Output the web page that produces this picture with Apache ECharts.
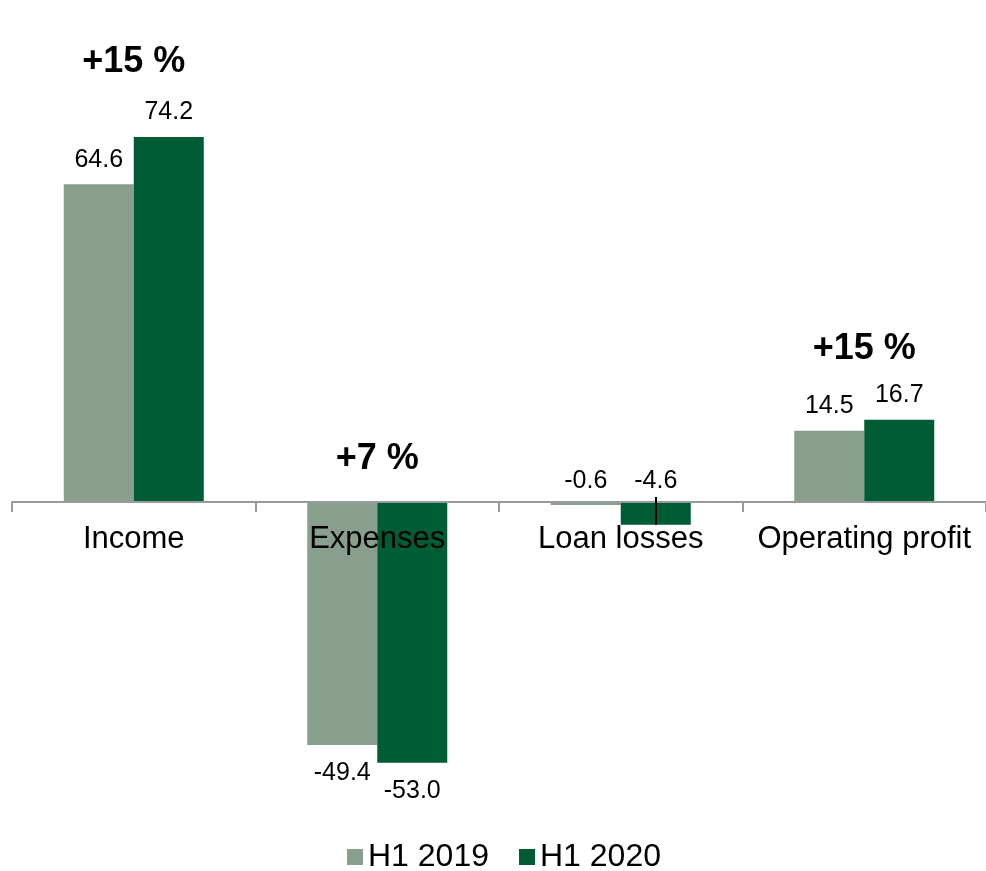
<!DOCTYPE html>
<html>
<head>
<meta charset="utf-8">
<script src="https://cdn.jsdelivr.net/npm/echarts@6/dist/echarts.min.js"></script>
<style>
  html, body { margin: 0; padding: 0; background: #fff; }
  #chart { width: 986px; height: 871px; }
</style>
</head>
<body>
<div id="chart"></div>
<script>
// Half-year results, by line item
const categories = ['Income', 'Expenses', 'Loan losses', 'Operating profit'];
const seriesNames = ['H1 2019', 'H1 2020'];
const h1_2019 = [64.6, -49.4, -0.6, 14.5];
const h1_2020 = [74.2, -53.0, -4.6, 16.7];
const changeLabels = ['+15 %', '+7 %', '', '+15 %'];

const LIGHT = '#889F8D';
const DARK = '#005C35';
const FONT = '"Liberation Sans", Arial, sans-serif';

const Y_MIN = -60;
const Y_MAX = 90;
const GRID_TOP = 59.2;
const GRID_BOTTOM = 73.8;
const PLOT_H = 871 - GRID_TOP - GRID_BOTTOM;
// distance from the bottom of the plot up to the zero line
const ZERO_SHIFT = PLOT_H * (0 - Y_MIN) / (Y_MAX - Y_MIN);

function valueLabel(v) {
  // small negatives keep their label above the zero line
  if (v >= 0) return { value: v, label: { position: 'top', distance: 12 } };
  if (Math.abs(v) < 10) return { value: v, label: { position: 'insideTop', offset: [0, -38] } };
  return { value: v, label: { position: 'bottom', distance: 16 } };
}

const chart = echarts.init(document.getElementById('chart'), null, { renderer: 'canvas' });

const changeDistances = [57, 25, 0, 53];

chart.setOption({
  animation: false,
  textStyle: { fontFamily: FONT },
  grid: { left: 12, right: -4, top: GRID_TOP, bottom: GRID_BOTTOM, containLabel: false },
  legend: {
    data: seriesNames,
    left: 342,
    top: 836,
    itemWidth: 16,
    itemHeight: 16,
    itemGap: 30,
    icon: 'rect',
    textStyle: { fontSize: 32, color: '#000', fontFamily: FONT }
  },
  xAxis: {
    type: 'category',
    data: categories,
    position: 'bottom',
    offset: -ZERO_SHIFT,
    z: 5,
    axisLine: { onZero: false, lineStyle: { color: '#9a9a9a', width: 2 } },
    axisTick: { show: true, length: 10, lineStyle: { color: '#9a9a9a', width: 2 } },
    axisLabel: { fontSize: 31, color: '#000', margin: 22, fontFamily: FONT, interval: 0 }
  },
  yAxis: {
    type: 'value',
    min: Y_MIN,
    max: Y_MAX,
    show: false,
    splitLine: { show: false }
  },
  series: [
    {
      name: seriesNames[0],
      type: 'bar',
      barWidth: 70,
      barGap: '0%',
      itemStyle: { color: LIGHT },
      label: { show: true, fontSize: 25, color: '#000', fontFamily: FONT,
               formatter: p => p.value.toFixed(1) },
      data: h1_2019.map(valueLabel)
    },
    {
      name: seriesNames[1],
      type: 'bar',
      barWidth: 70,
      barGap: '0%',
      itemStyle: { color: DARK },
      label: { show: true, fontSize: 25, color: '#000', fontFamily: FONT,
               formatter: p => p.value.toFixed(1) },
      data: h1_2020.map(valueLabel)
    },
    {
      // year-over-year change, centred over each pair of bars
      name: 'change',
      type: 'scatter',
      symbolSize: 0,
      silent: true,
      clip: false,
      z: 5,
      itemStyle: { opacity: 1 },
      label: {
        show: true,
        position: 'top',
        fontSize: 36,
        fontWeight: 'bold',
        color: '#000',
        opacity: 1,
        fontFamily: FONT,
        formatter: p => changeLabels[p.data.idx]
      },
      emphasis: { disabled: true },
      data: categories.map((c, i) => ({
        idx: i,
        value: [i, Math.max(0, h1_2019[i], h1_2020[i])],
        label: { distance: changeDistances[i] }
      })).filter(d => changeLabels[d.idx] !== '')
    },
    {
      // thin marker line through the H1 2020 loan-loss bar
      name: 'marker',
      type: 'custom',
      silent: true,
      z: 10,
      renderItem: (params, api) => {
        const i = api.value(0);
        const base = api.coord([i, 0]);
        const end = api.coord([i, api.value(1)]);
        const band = api.size([1, 0])[0];
        const x = Math.round(base[0] + band * 35 / 244.5);
        return {
          type: 'line',
          shape: { x1: x, y1: base[1] - 5, x2: x, y2: end[1] },
          style: { stroke: '#000', lineWidth: 2 }
        };
      },
      data: [[2, h1_2020[2]]]
    }
  ]
});
</script>
</body>
</html>
